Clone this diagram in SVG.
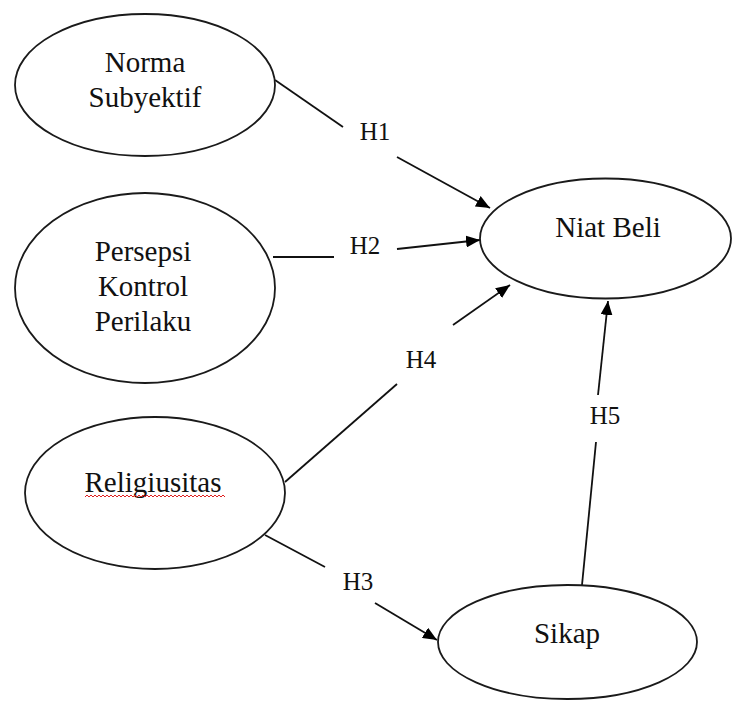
<svg xmlns="http://www.w3.org/2000/svg" width="733" height="702" viewBox="0 0 733 702">
<style>
.node ellipse{fill:#fff;stroke:#1a1a1a;stroke-width:1.8}
text{font-family:'Liberation Serif','DejaVu Serif',serif;fill:#111;text-anchor:middle}
.nt{font-size:29px}
.lbl{font-size:25px}
.edge{stroke:#111;stroke-width:1.8;fill:none}
</style>
<defs>
<marker id="arr" markerUnits="userSpaceOnUse" markerWidth="14" markerHeight="12" refX="14" refY="6" orient="auto">
<path d="M0,0 L14,6 L0,12 z" fill="#000"/>
</marker>
</defs>
<rect width="733" height="702" fill="#fff"/>
<g id="connectors">
<line class="edge" x1="275" y1="80" x2="343" y2="127"/>
<line class="edge" x1="397" y1="157" x2="490" y2="208" marker-end="url(#arr)"/>
<line class="edge" x1="273" y1="257" x2="334" y2="257"/>
<line class="edge" x1="397" y1="249" x2="480" y2="240" marker-end="url(#arr)"/>
<line class="edge" x1="285" y1="482" x2="397" y2="384"/>
<line class="edge" x1="453" y1="325" x2="510" y2="285" marker-end="url(#arr)"/>
<line class="edge" x1="265" y1="535" x2="325" y2="567"/>
<line class="edge" x1="375" y1="603" x2="437" y2="640" marker-end="url(#arr)"/>
<line class="edge" x1="582" y1="585" x2="596" y2="442"/>
<line class="edge" x1="598" y1="395" x2="608" y2="301" marker-end="url(#arr)"/>
<text class="lbl" x="375" y="140" font-family="Liberation Serif, serif">H1</text>
<text class="lbl" x="365" y="254" font-family="Liberation Serif, serif">H2</text>
<text class="lbl" x="421" y="368" font-family="Liberation Serif, serif">H4</text>
<text class="lbl" x="358" y="590" font-family="Liberation Serif, serif">H3</text>
<text class="lbl" x="605" y="424" font-family="Liberation Serif, serif">H5</text>
</g>
<g id="norma" class="node">
<ellipse cx="145" cy="85" rx="130" ry="71"/>
<text class="nt" x="145" y="72" font-family="Liberation Serif, serif">Norma</text>
<text class="nt" x="145" y="107" font-family="Liberation Serif, serif">Subyektif</text>
</g>
<g id="persepsi" class="node">
<ellipse cx="145" cy="288" rx="130" ry="95"/>
<text class="nt" x="143" y="261" font-family="Liberation Serif, serif">Persepsi</text>
<text class="nt" x="143" y="296" font-family="Liberation Serif, serif">Kontrol</text>
<text class="nt" x="143" y="331" font-family="Liberation Serif, serif">Perilaku</text>
</g>
<g id="religiusitas" class="node">
<ellipse cx="155" cy="493" rx="130" ry="76"/>
<text class="nt" x="153" y="492" font-family="Liberation Serif, serif">Religiusitas</text>
<path d="M85,497 l2,-2 l2,2 l2,-2 l2,2 l2,-2 l2,2 l2,-2 l2,2 l2,-2 l2,2 l2,-2 l2,2 l2,-2 l2,2 l2,-2 l2,2 l2,-2 l2,2 l2,-2 l2,2 l2,-2 l2,2 l2,-2 l2,2 l2,-2 l2,2 l2,-2 l2,2 l2,-2 l2,2 l2,-2 l2,2 l2,-2 l2,2 l2,-2 l2,2 l2,-2 l2,2 l2,-2 l2,2 l2,-2 l2,2 l2,-2 l2,2 l2,-2 l2,2 l2,-2 l2,2 l2,-2 l2,2 l2,-2 l2,2 l2,-2 l2,2 l2,-2 l2,2 l2,-2 l2,2 l2,-2 l2,2 l2,-2 l2,2 l2,-2 l2,2 l2,-2 l2,2 l2,-2 l2,2 l2,-2 l2,2" fill="none" stroke="#e02020" stroke-width="1"/>
</g>
<g id="niat" class="node">
<ellipse cx="605.5" cy="238.5" rx="125.5" ry="60"/>
<text class="nt" x="608" y="237" font-family="Liberation Serif, serif">Niat Beli</text>
</g>
<g id="sikap" class="node">
<ellipse cx="567.5" cy="642" rx="129.5" ry="57"/>
<text class="nt" x="567" y="643" font-family="Liberation Serif, serif">Sikap</text>
</g>
</svg>
